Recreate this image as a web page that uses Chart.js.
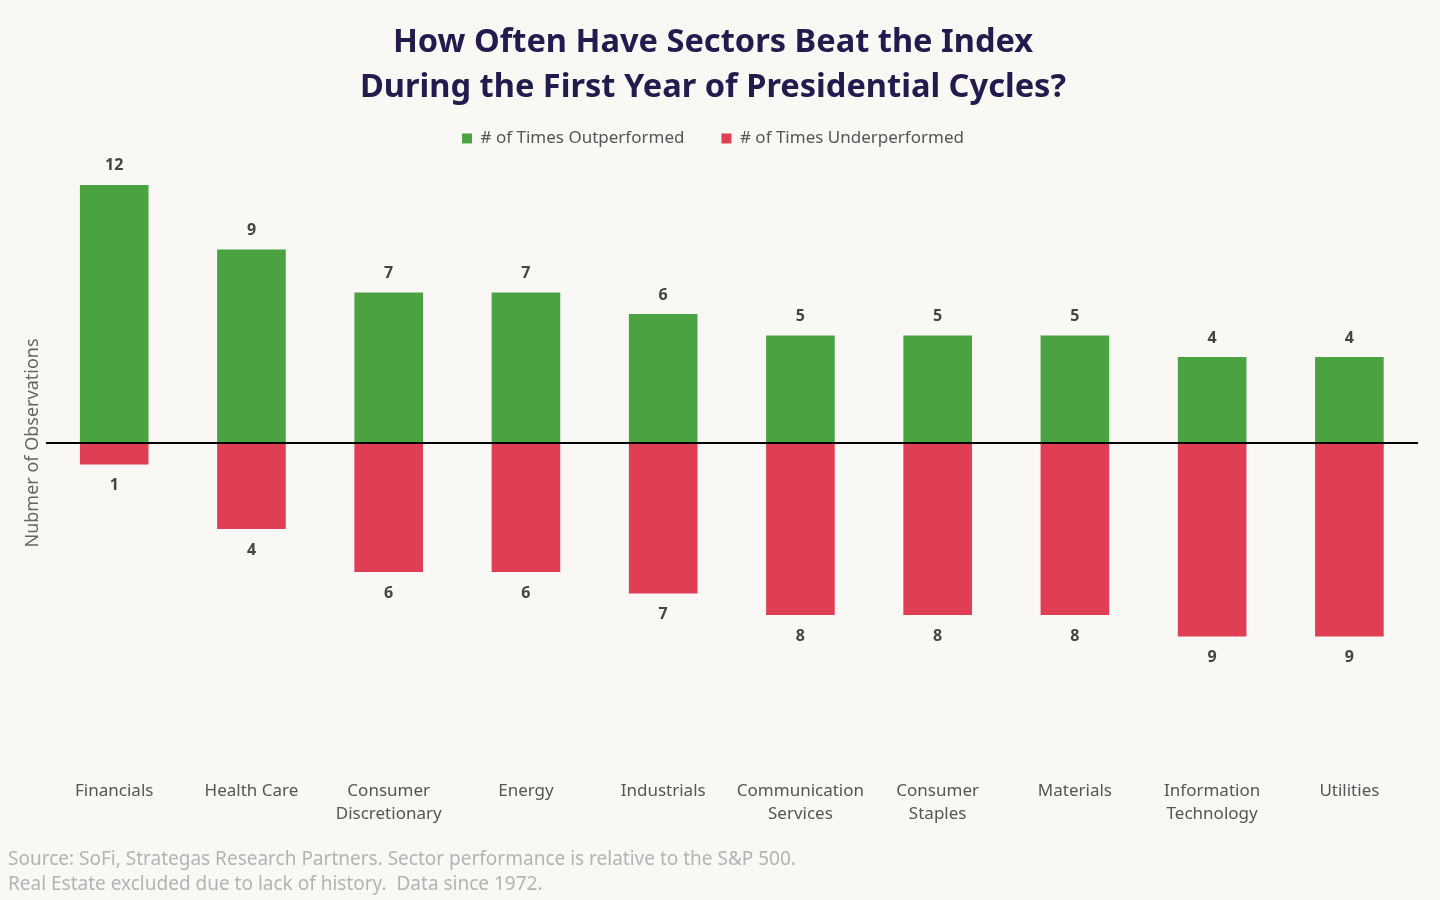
<!DOCTYPE html>
<html>
<head>
<meta charset="utf-8">
<title>How Often Have Sectors Beat the Index</title>
<script src="https://cdn.jsdelivr.net/npm/chart.js@4"></script>
<style>
  html, body { margin: 0; padding: 0; background: #f9f8f5; }
  #wrap { width: 1440px; height: 900px; position: relative; }
</style>
</head>
<body>
<div id="wrap"><canvas id="chart"></canvas></div>
<script>
// data
const sectors = [
  ["Financials"], ["Health Care"], ["Consumer", "Discretionary"], ["Energy"], ["Industrials"],
  ["Communication", "Services"], ["Consumer", "Staples"], ["Materials"],
  ["Information", "Technology"], ["Utilities"]
];
const outperformed = [12, 9, 7, 7, 6, 5, 5, 5, 4, 4];
const underperformed = [1, 4, 6, 6, 7, 8, 8, 8, 9, 9];

const titleLines = ["How Often Have Sectors Beat the Index", "During the First Year of Presidential Cycles?"];
const sourceLines = [
  "Source: SoFi, Strategas Research Partners. Sector performance is relative to the S&P 500.",
  "Real Estate excluded due to lack of history.  Data since 1972."
];

const FONT = "'Noto Sans', 'DejaVu Sans', sans-serif";
const GREEN = "#4aa241";
const RED = "#e03e54";

// numbers above / below each bar
const valueLabels = {
  id: "valueLabels",
  afterDatasetsDraw(chart) {
    const ctx = chart.ctx;
    ctx.save();
    ctx.font = "bold 16px " + FONT;
    ctx.fillStyle = "#444444";
    ctx.textAlign = "center";
    ctx.textBaseline = "middle";
    chart.data.datasets.forEach((ds, i) => {
      chart.getDatasetMeta(i).data.forEach((bar, j) => {
        const v = ds.data[j];
        const y = v >= 0 ? bar.y - 19 : bar.y + 21;
        ctx.fillText(Math.abs(v), bar.x, y);
      });
    });
    ctx.restore();
  }
};

new Chart(document.getElementById("chart"), {
  type: "bar",
  data: {
    labels: sectors,
    datasets: [
      {
        label: "# of Times Outperformed",
        data: outperformed,
        backgroundColor: GREEN,
      },
      {
        label: "# of Times Underperformed",
        data: underperformed.map((v) => -v),
        backgroundColor: RED,
      },
    ],
  },
  options: {
    responsive: true,
    maintainAspectRatio: false,
    animation: false,
    layout: { padding: { left: 8, right: 22, top: 0, bottom: 3 } },
    datasets: { bar: { categoryPercentage: 1, barPercentage: 0.5 } },
    plugins: {
      title: {
        display: true,
        text: titleLines,
        color: "#211c4d",
        font: { family: FONT, size: 32.6, weight: "bold", lineHeight: 1.38 },
        padding: { top: 20, bottom: -17 },
      },
      legend: {
        display: true,
        position: "top",
        labels: {
          boxWidth: 10,
          boxHeight: 10,
          padding: 37,
          color: "#555555",
          font: { family: FONT, size: 17 },
        },
      },
      subtitle: {
        display: true,
        position: "bottom",
        align: "start",
        text: sourceLines,
        color: "#b3b3b3",
        font: { family: FONT, size: 19, lineHeight: 1.316 },
        padding: { top: 23, bottom: 0 },
      },
      tooltip: { enabled: false },
    },
    scales: {
      x: {
        stacked: true,
        grid: { display: false },
        border: { display: false },
        afterFit: (scale) => {
          scale.height = 95;
        },
        ticks: {
          color: "#555555",
          padding: 43,
          maxRotation: 0,
          autoSkip: false,
          font: { family: FONT, size: 17, lineHeight: 1.35 },
        },
      },
      y: {
        stacked: true,
        min: -13.3,
        max: 13.3,
        afterBuildTicks: (axis) => {
          axis.ticks = [{ value: 0 }];
        },
        ticks: { display: false },
        grid: {
          drawTicks: false,
          color: (c) => (c.tick && c.tick.value === 0 ? "#000000" : "transparent"),
          lineWidth: 2,
        },
        border: { display: false },
        title: {
          display: true,
          text: "Nubmer of Observations",
          color: "#666666",
          font: { family: FONT, size: 18 },
          padding: { top: 14, bottom: 2 },
        },
      },
    },
  },
  plugins: [valueLabels],
});
</script>
</body>
</html>
